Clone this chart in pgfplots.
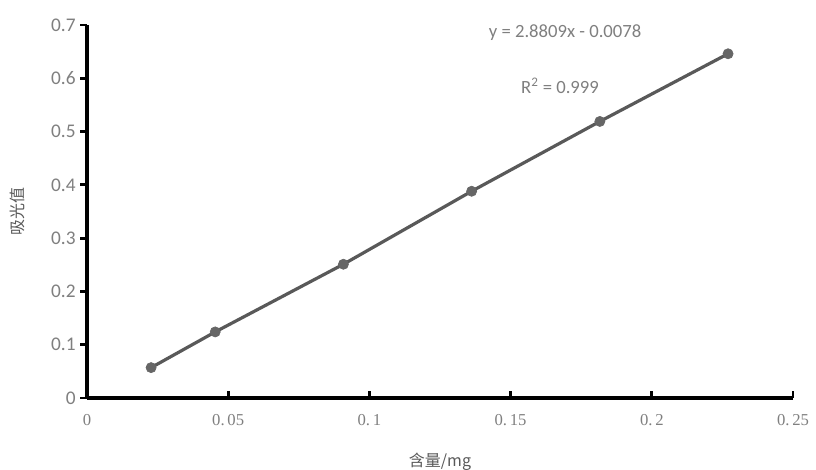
\documentclass[border=0pt]{standalone}
\usepackage{pgfplots}
\pgfplotsset{compat=1.18}
\usepackage{fontspec}
\setmainfont{Carlito}
\newfontfamily\cjk{Noto Sans CJK SC}
\newfontfamily\serifnum{Liberation Serif}
\definecolor{tickgray}{HTML}{7F7F7F}
\definecolor{linegray}{HTML}{595959}
\definecolor{markgray}{HTML}{666666}
\begin{document}
\begin{tikzpicture}
\useasboundingbox (-65.25pt,-54pt) rectangle (546.75pt,298.5pt);
\begin{axis}[
  at={(0,0)}, anchor=south west,
  scale only axis,
  width=529.5pt, height=279.75pt,
  xmin=0, xmax=0.25, ymin=0, ymax=0.7,
  axis lines*=left,
  axis line style={black, line width=2.6pt},
  every outer x axis line/.append style={black, line width=2.6pt},
  every outer y axis line/.append style={black, line width=2.6pt},
  tick align=outside,
  major tick length=5pt,
  tick style={black, line width=2.2pt},
  x tick style={yshift=5pt},
  xtick={0,0.05,0.1,0.15,0.2,0.25},
  xticklabels={0, 0.\,05, 0.\,1, 0.\,15, 0.\,2, 0.\,25},
  ytick={0,0.1,0.2,0.3,0.4,0.5,0.6,0.7},
  yticklabels={0,0.1,0.2,0.3,0.4,0.5,0.6,0.7},
  xticklabel style={font=\serifnum\fontsize{12.5}{14}\selectfont, text=tickgray, yshift=-4pt},
  yticklabel style={font=\fontsize{14.5}{17}\selectfont, text=tickgray},
  xlabel={\cjk 含量/mg},
  ylabel={\cjk 吸光值},
  xlabel style={at={(axis description cs:0.5,0)}, anchor=center, yshift=-48pt, font=\fontsize{12}{14}\selectfont, text=linegray},
  ylabel style={at={(axis description cs:-0.098,0.5)}, anchor=center, font=\fontsize{12}{14}\selectfont, text=linegray},
  clip=false,
]
\addplot[color=linegray, line width=2.4pt, mark=*, mark size=3.8pt,
  mark options={fill=markgray, draw=markgray, line width=0.5pt}]
  coordinates {
  (0.0227,0.057)
  (0.0454,0.124)
  (0.0908,0.251)
  (0.1362,0.388)
  (0.1816,0.519)
  (0.2270,0.646)
  };
\node[font=\fontsize{14}{16}\selectfont, text=tickgray] at (axis cs:0.1693,0.685) {y = 2.8809x - 0.0078};
\node[font=\fontsize{14}{16}\selectfont, text=tickgray] at (axis cs:0.1675,0.5855) {R\textsuperscript{2} = 0.999};
\end{axis}
\end{tikzpicture}
\end{document}
